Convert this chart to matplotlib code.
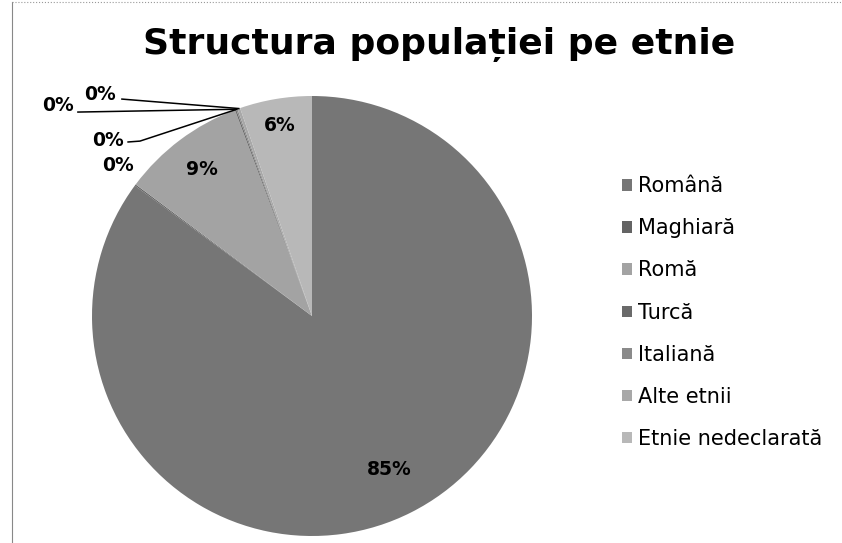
import matplotlib
matplotlib.use("Agg")
import matplotlib.pyplot as plt
import numpy as np

categories = ["Română", "Maghiară", "Romă", "Turcă", "Italiană", "Alte etnii", "Etnie nedeclarată"]
values = [85.1, 0.1, 9.1, 0.1, 0.1, 0.2, 5.3]
pct_labels = ["85%", "0%", "9%", "0%", "0%", "0%", "6%"]
colors = ["#767676", "#646464", "#a3a3a3", "#6a6a6a", "#8a8a8a", "#a8a8a8", "#b8b8b8"]

plt.rcParams['font.family'] = ['DejaVu Sans']

W, H = 842, 543
fig = plt.figure(figsize=(W / 100, H / 100), dpi=100)

cx, cy, r = 312, 316, 220
ax = fig.add_axes([(cx - r) / W, (H - cy - r) / H, 2 * r / W, 2 * r / H])
wedges, _ = ax.pie(values, colors=colors, startangle=90, counterclock=False,
                   radius=1.0, wedgeprops=dict(linewidth=0))
ax.set_xlim(-1, 1)
ax.set_ylim(-1, 1)
ax.set_aspect('equal')
ax.axis('off')

# Label layout (positions only)
big_dist = {0: 0.78, 2: 0.83, 6: 0.88}
small_text = {1: (-0.882, 0.686), 3: (-0.927, 0.80), 4: (-1.155, 0.959), 5: (-0.964, 1.005)}
leader_pts = {3: [(-0.836, 0.791), (-0.782, 0.795)], 4: [(-1.064, 0.927)], 5: [(-0.864, 0.986)]}

for i, w in enumerate(wedges):
    mid = np.deg2rad((w.theta1 + w.theta2) / 2)
    if i in big_dist:
        d = big_dist[i]
        ax.text(d * np.cos(mid), d * np.sin(mid), pct_labels[i], ha='center', va='center',
                fontsize=13.5, fontweight='bold', color='black')
    else:
        tx, ty = small_text[i]
        ax.text(tx, ty, pct_labels[i], ha='center', va='center', fontsize=13.5,
                fontweight='bold', color='black', clip_on=False)
        if i in leader_pts:
            ex, ey = np.cos(mid), np.sin(mid)
            pts = leader_pts[i] + [(ex, ey)]
            xs = [p[0] for p in pts]
            ys = [p[1] for p in pts]
            ax.plot(xs, ys, color='black', lw=1.1, clip_on=False)

fig.text(439 / W, 1 - 45 / H, "Structura populației pe etnie", ha='center', va='center',
         fontsize=26, fontweight='bold', color='black')

leg = fig.legend(wedges, categories, loc='upper left', bbox_to_anchor=(614 / W, 1 - 168 / H),
                 frameon=False, fontsize=15, handlelength=0.45, handleheight=0.45,
                 handletextpad=0.3, labelspacing=1.06, borderaxespad=0)

# chart frame
fig.add_artist(plt.Line2D([12 / W, 12 / W], [0, 1 - 2 / H], transform=fig.transFigure,
                          color='#888888', lw=0.8))
fig.add_artist(plt.Line2D([12 / W, 1], [1 - 2 / H, 1 - 2 / H], transform=fig.transFigure,
                          color='#999999', lw=0.8, ls=':'))

fig.savefig("out.png", dpi=100)
